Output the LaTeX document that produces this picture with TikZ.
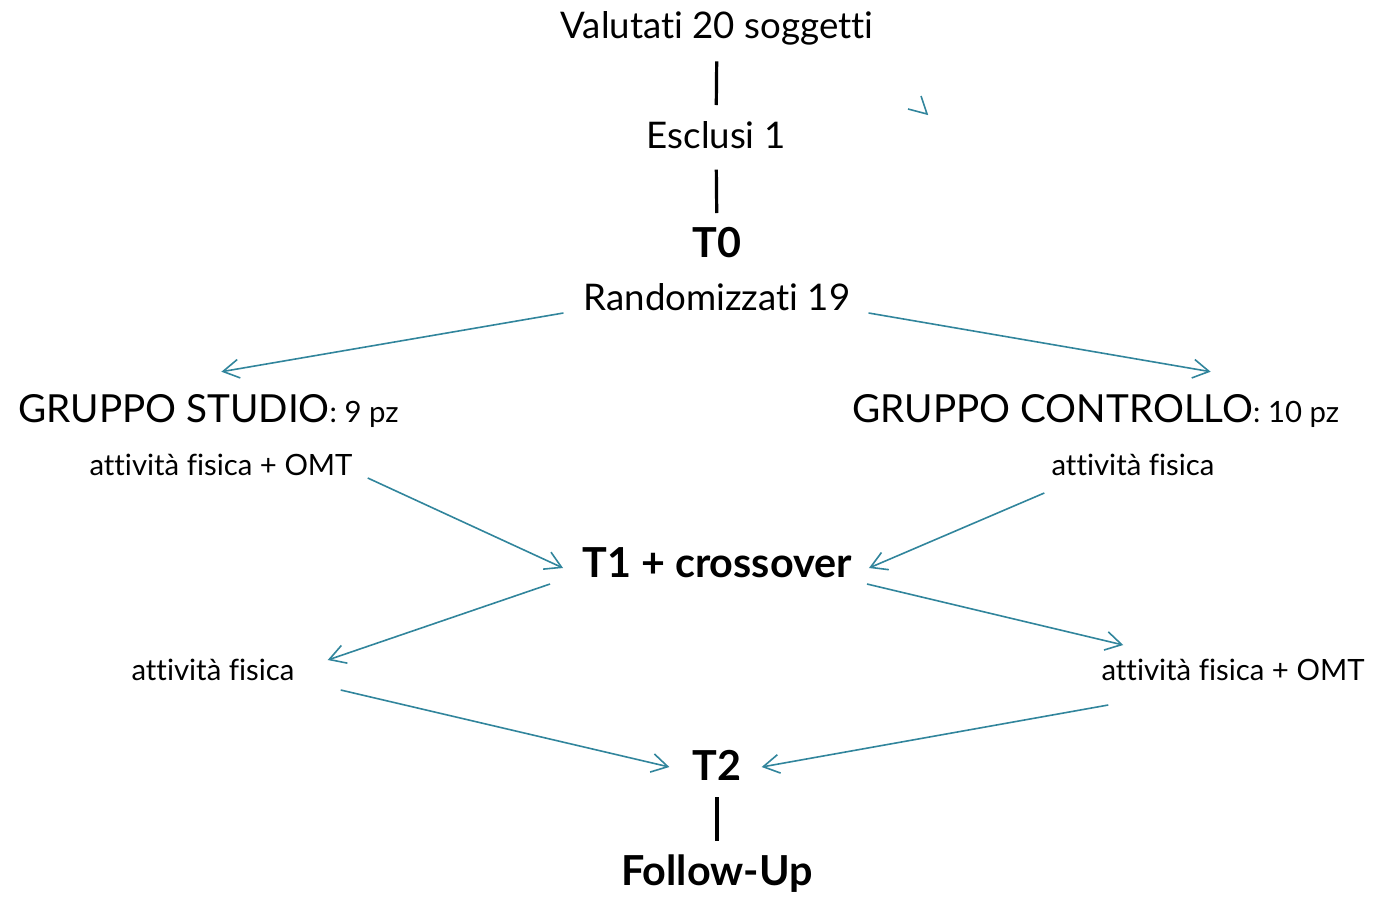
\documentclass[tikz,border=0pt]{standalone}
\usepackage{fontspec}
\setmainfont[Ligatures={NoCommon}]{Lato}
\usetikzlibrary{arrows.meta}
\definecolor{tealarrow}{RGB}{49,133,156}

\begin{document}
\begin{tikzpicture}[x=0.75pt, y=-0.75pt,
    big/.style={inner sep=0pt, font=\fontsize{27.5}{32}\selectfont},
    group/.style={inner sep=0pt, anchor=base west, font=\fontsize{29}{33}\selectfont},
    small/.style={inner sep=0pt, font=\fontsize{22}{26}\selectfont},
    bold/.style={inner sep=0pt, font=\fontsize{31}{36}\selectfont\bfseries},
    link/.style={draw=tealarrow, line width=1.2pt, -{Straight Barb[length=12pt, width=14pt]}},
    bar/.style={draw=black, line width=2.4pt}]
      \useasboundingbox (0,0) rectangle (1373,896);

      \node[big] (val) at (717,28) {Valutati 20 soggetti};
      \node[big] (escl) at (716,135) {Esclusi 1};
      \node[bold] (t0) at (717,243) {T0};
      \node[big] (rand) at (717,297) {Randomizzati 19};
      \node[group] (studio) at (18,422) {GRUPPO STUDIO{\fontsize{22}{26}\selectfont: 9 pz}};
      \node[group] (ctrl) at (852,422) {GRUPPO CONTROLLO{\fontsize{22}{26}\selectfont: 10 pz}};
      \node[small] (omtL) at (221,465) {attività fisica + OMT};
      \node[small] (fisR) at (1133,465) {attività fisica};
      \node[bold] (t1) at (717,563) {T1 + crossover};
      \node[small] (fisL) at (213,670) {attività fisica};
      \node[small] (omtR) at (1233,670) {attività fisica + OMT};
      \node[bold] (t2) at (717,765) {T2};
      \node[bold] (fu) at (717,874) {Follow-Up};

      \draw[bar, shorten <=25pt, shorten >=22.5pt] (val.center) -- (escl.center);
      \draw[bar, shorten <=26pt, shorten >=22.5pt] (escl.center) -- (t0.center);
      \draw[bar, shorten <=24pt, shorten >=25pt] (t2.center) -- (fu.center);

      \draw[link] ([shift={(-20,16)}]rand.west) -- ([shift={(13,-22)}]studio.north);
      \draw[link] ([shift={(18,16)}]rand.east) -- ([shift={(115,-22)}]ctrl.north);
      \draw[link] ([shift={(15,13)}]omtL.east) -- ([shift={(-19,5)}]t1.west);
      \draw[link] ([shift={(-7,28)}]fisR.west) -- ([shift={(17,5)}]t1.east);
      \draw[link] ([shift={(-32,21)}]t1.west) -- ([shift={(33,-10)}]fisL.east);
      \draw[link] ([shift={(15,21)}]t1.east) -- ([shift={(22,-25)}]omtR.west);
      \draw[link] ([shift={(46,20)}]fisL.east) -- ([shift={(-23,2)}]t2.west);
      \draw[link] ([shift={(7,35)}]omtR.west) -- ([shift={(20,2)}]t2.east);

      \coordinate (s1) at (908,109);
      \coordinate (s2) at (927,114);
      \coordinate (s3) at (921,96);
      \draw[draw=tealarrow, line width=1.2pt] (s1) -- (s2) -- (s3);
\end{tikzpicture}
\end{document}
